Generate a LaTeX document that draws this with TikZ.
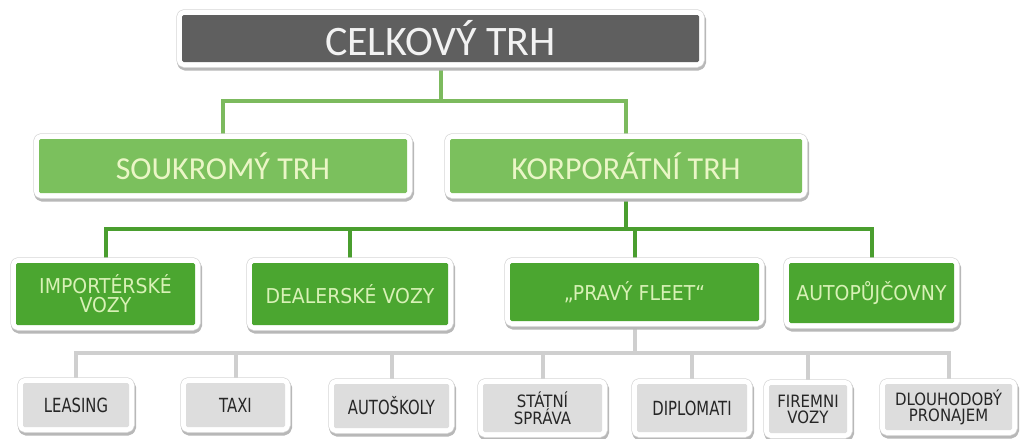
\documentclass[tikz,border=0pt]{standalone}
\usepackage{fontspec}
\setmainfont{Carlito}
\newfontfamily\gfont[FakeStretch=0.92]{DejaVu Sans}
\newfontfamily\bfont[FakeStretch=0.76]{DejaVu Sans}
\newfontfamily\cfont[FakeStretch=0.88]{DejaVu Sans}
\usetikzlibrary{backgrounds}
\definecolor{topfill}{HTML}{5F5F5F}
\definecolor{lonefill}{HTML}{7BC05D}
\definecolor{ltwofill}{HTML}{4BA630}
\definecolor{botfill}{HTML}{DDDDDD}
\definecolor{lonetext}{HTML}{EAF6C6}
\definecolor{ltwotext}{HTML}{D8F1B6}
\definecolor{bottext}{HTML}{262626}
\definecolor{loneline}{HTML}{7CBA5E}
\definecolor{ltwoline}{HTML}{4A9E2F}
\definecolor{lthreeline}{HTML}{CFCFCF}
\tikzset{
  framed/.style={rectangle, inner sep=0pt, rounded corners=1.5pt, align=center,
    preaction={draw=black!28, line width=12pt, line join=round, transform canvas={xshift=1pt,yshift=-2.5pt}},
    preaction={draw=black!16, line width=11.5pt, line join=round},
    preaction={draw=white, line width=10pt, line join=round}},
  topbox/.style={framed, fill=topfill, text=white!95!black, font=\fontsize{42}{44}\selectfont},
  lonebox/.style={framed, fill=lonefill, text=lonetext, font=\fontsize{32}{34}\selectfont},
  ltwobox/.style={framed, fill=ltwofill, text=ltwotext, font=\gfont\fontsize{20.5}{19}\selectfont},
  botbox/.style={framed, fill=botfill, text=bottext, font=\bfont\fontsize{19.5}{18}\selectfont},
  bottwo/.style={framed, fill=botfill, text=bottext, font=\cfont\fontsize{17}{16}\selectfont},
  lone/.style={draw=loneline, line width=4pt},
  ltwo/.style={draw=ltwoline, line width=4pt},
  lthree/.style={draw=lthreeline, line width=4pt}
}
\begin{document}
\begin{tikzpicture}[x=1pt,y=-1pt]
\begin{scope}[on background layer]
\fill[white] (0,0) rectangle (1021,439);
\end{scope}
\useasboundingbox (0,0) rectangle (1021,439);

% level 0
\node[topbox, minimum width=517pt, minimum height=47pt] (top) at (440.5,38.5) {CELKOVÝ TRH};

% level 1
\node[lonebox, minimum width=368pt, minimum height=54pt] (sou) at (223,166) {SOUKROMÝ TRH};
\node[lonebox, minimum width=352pt, minimum height=54pt] (kor) at (626,166) {KORPORÁTNÍ TRH};

% level 2
\node[ltwobox, minimum width=179pt, minimum height=62pt] (imp) at (105.5,294) {IMPORTÉRSKÉ\\VOZY};
\node[ltwobox, minimum width=196pt, minimum height=62pt] (dea) at (350,294) {DEALERSKÉ VOZY};
\node[ltwobox, minimum width=249pt, minimum height=58pt] (pra) at (634.5,292) {„PRAVÝ FLEET“};
\node[ltwobox, minimum width=165pt, minimum height=60pt] (aut) at (871.5,293) {AUTOPŮJČOVNY};

% level 3
\node[botbox, minimum width=106pt, minimum height=44pt] (lea) at (76,405) {LEASING};
\node[botbox, minimum width=99pt, minimum height=44pt] (tax) at (235.5,405) {TAXI};
\node[botbox, minimum width=115pt, minimum height=44pt] (ask) at (391.5,406) {AUTOŠKOLY};
\node[bottwo, minimum width=119pt, minimum height=48pt] (sta) at (542.5,408) {STÁTNÍ\\SPRÁVA};
\node[botbox, minimum width=110pt, minimum height=48pt] (dip) at (692,408) {DIPLOMATI};
\node[bottwo, minimum width=78pt, minimum height=48pt] (fir) at (808,409) {FIREMNI\\VOZY};
\node[bottwo, minimum width=127pt, minimum height=46pt] (dlo) at (948.5,407) {DLOUHODOBÝ\\PRONAJEM};

\coordinate (bone) at (440.5,101);
\coordinate (btwo) at (626,229);
\coordinate (bthree) at (636,353);

\begin{scope}[on background layer]
\draw[lone] (top.south) -- (bone);
\draw[lone] (sou.north) |- (bone) -| (kor.north);

\draw[ltwo] (kor.south) -- (btwo);
\draw[ltwo] (imp.north) |- (btwo) -| (aut.north);
\draw[ltwo] (dea.north) -- (dea.north |- btwo);
\draw[ltwo] (pra.north) -- (pra.north |- btwo);

\draw[lthree] (pra.south) -- (pra.south |- bthree);
\draw[lthree] (lea.north) |- (bthree) -| (dlo.north);
\draw[lthree] (tax.north) -- (tax.north |- bthree);
\draw[lthree] (ask.north) -- (ask.north |- bthree);
\draw[lthree] (sta.north) -- (sta.north |- bthree);
\draw[lthree] (dip.north) -- (dip.north |- bthree);
\draw[lthree] (fir.north) -- (fir.north |- bthree);
\end{scope}
\end{tikzpicture}
\end{document}
